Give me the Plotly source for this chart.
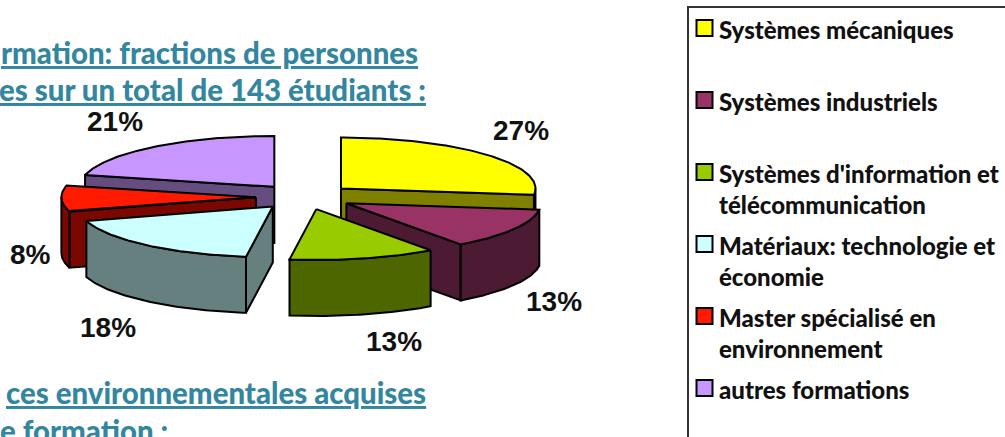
import numpy as np
import plotly.graph_objects as go

# ---- data ----
CATEGORIES = ["Systèmes mécaniques", "Systèmes industriels",
              "Systèmes d'information et<br>télécommunication",
              "Matériaux: technologie et<br>économie",
              "Master spécialisé en<br>environnement", "autres formations"]
VALUES = [27.0, 13.0, 12.2, 18.2, 8.3, 21.3]
VALUE_LABELS = ["27%", "13%", "13%", "18%", "8%", "21%"]
TOP_COLORS = ["#FFFF00", "#993366", "#99CC00", "#CCFFFF", "#FF1A00", "#C896FF"]
SIDE_COLORS = ["#808000", "#4D1A33", "#4D6600", "#668080", "#7B0800", "#664D80"]

# ---- projection of the exploded 3D pie ----
CX, CY = 304.5, 196.8
RX, SQUASH, DEPTH, EXPLODE = 194.5, 0.2615, 56.0, 0.25
PAINT_ORDER = [5, 0, 4, 1, 3, 2]
LABEL_XY = [(521, 130), (554, 301), (394, 341), (108, 327), (30, 254), (115, 121)]


def project(ax, ay, theta_deg, radius=RX):
    t = np.radians(theta_deg)
    return ax + radius * np.sin(t), ay - radius * SQUASH * np.cos(t)


def poly(xs, ys, color):
    return go.Scatter(x=list(xs), y=list(ys), mode="lines", fill="toself",
                      fillcolor=color, line=dict(color="black", width=2),
                      hoverinfo="skip", showlegend=False)


fig = go.Figure()
total = sum(VALUES)
edges = np.concatenate([[0], np.cumsum(VALUES)]) / total * 360
for i in PAINT_ORDER:
    a0, a1 = edges[i], edges[i + 1]
    mid = (a0 + a1) / 2
    ax, ay = project(CX, CY, mid, RX * EXPLODE)
    side = SIDE_COLORS[i]
    # visible cut faces
    for a, visible in ((a0, 180 <= a0 < 360), (a1, 0 < a1 < 180)):
        if visible:
            ox, oy = project(ax, ay, a)
            fig.add_trace(poly([ax, ox, ox, ax, ax],
                               [ay, oy, oy + DEPTH, ay + DEPTH, ay], side))
    # outer rim: only the part that faces the viewer
    r0, r1 = max(a0, 90), min(a1, 270)
    if r1 > r0:
        th = np.linspace(r0, r1, 60)
        rx, ry = project(ax, ay, th)
        fig.add_trace(poly(np.r_[rx, rx[::-1], rx[0]],
                           np.r_[ry, ry[::-1] + DEPTH, ry[0]], side))
    # top face
    th = np.linspace(a0, a1, 120)
    tx, ty = project(ax, ay, th)
    fig.add_trace(poly(np.r_[ax, tx, ax], np.r_[ay, ty, ay], TOP_COLORS[i]))

annotations = []
for lab, (x, y) in zip(VALUE_LABELS, LABEL_XY):
    annotations.append(dict(x=x, y=y, text=f"<b>{lab}</b>", showarrow=False,
                            xanchor="center", yanchor="middle",
                            font=dict(family="Liberation Sans", size=28, color="#111")))

# ---- legend ----
LEG_Y = [28, 100, 172, 244, 316, 388]
fig.add_trace(go.Scatter(x=[704.5] * 6, y=LEG_Y, mode="markers", hoverinfo="skip", showlegend=False,
                         marker=dict(symbol="square", size=16, color=TOP_COLORS,
                                     line=dict(color="black", width=2))))
for cat, y in zip(CATEGORIES, LEG_Y):
    annotations.append(dict(x=717, y=y - 15, text=cat, showarrow=False,
                            xanchor="left", yanchor="top", align="left",
                            font=dict(family="Lato", size=24, weight=900, color="#111")))

# ---- surrounding page text ----
TITLES = [("<u>rmation: fractions de personnes</u>", 420, 52, "right"),
          ("<u>es sur un total de 143 étudiants :</u>", 428, 89, "right"),
          ("<u>ces environnementales acquises</u>", 428, 392, "right"),
          ("e formation :", 170, 430, "right")]
for txt, x, y, anchor in TITLES:
    annotations.append(dict(x=x, y=y, text=txt, showarrow=False,
                            xanchor=anchor, yanchor="middle",
                            font=dict(family="Lato", size=29.4, weight=900, color="#33869F")))

fig.update_layout(
    width=1005, height=437, margin=dict(l=0, r=0, t=0, b=0),
    paper_bgcolor="white", plot_bgcolor="white", showlegend=False,
    xaxis=dict(range=[0, 1005], visible=False, fixedrange=True),
    yaxis=dict(range=[437, 0], visible=False, fixedrange=True),
    annotations=annotations,
    shapes=[dict(type="rect", xref="x", yref="y", x0=688, y0=7, x1=1100, y1=500,
                 line=dict(color="#333", width=2), fillcolor="rgba(0,0,0,0)", layer="below")],
)
fig.write_html("out.html", config=dict(displayModeBar=False),
               post_script="document.body.style.margin='0';document.documentElement.style.overflow='hidden';")
